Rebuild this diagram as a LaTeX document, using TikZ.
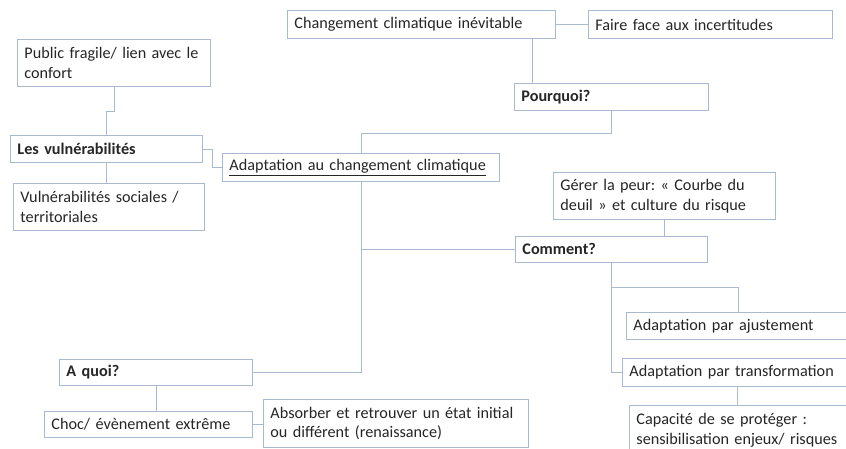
\documentclass[tikz,border=0pt]{standalone}
\usepackage{fontspec}
\setmainfont{Carlito}[WordSpace=0.8]
\usetikzlibrary{calc}
\definecolor{boxline}{HTML}{A9B9CF}
\definecolor{boxtext}{HTML}{262626}
\newcommand{\boxfont}{\fontsize{16.2}{19.5}\selectfont\frenchspacing\hyphenpenalty=10000\relax}
\tikzset{box/.style={draw=boxline, line width=0.9pt, fill=white, anchor=north west,
    align=left, inner xsep=7pt, inner ysep=0pt, text=boxtext, font=\boxfont},
    link/.style={draw=boxline, line width=0.9pt}}

\begin{document}
\begin{tikzpicture}[x=1pt, y=-1pt]
    \useasboundingbox (0,0) rectangle (846,448);
    \clip (0,0) rectangle (846,448);

    % Boxes
    \node[box, text width=254pt, minimum height=28pt] (chg)    at (287,10)  {Changement climatique inévitable};
    \node[box, text width=230pt, minimum height=28pt] (faire)  at (588,10)  {Faire face aux incertitudes};
    \node[box, text width=180pt, minimum height=27pt] (pq)     at (514,83)  {\textbf{Pourquoi?}};
    \node[box, text width=179pt, minimum height=47pt] (pub)    at (17,39)   {Public fragile/ lien avec le\\confort};
    \node[box, text width=178pt, minimum height=27pt] (lesv)   at (10,135)  {\textbf{Les vulnérabilités}};
    \node[box, text width=263pt, minimum height=28pt] (adapt)  at (222,153) {\underline{Adaptation au changement climatique}};
    \node[box, text width=177pt, minimum height=47pt] (vsoc)   at (13,183)  {Vulnérabilités sociales /\\territoriales};
    \node[box, text width=208pt, minimum height=47pt] (gerer)  at (553,172) {Gérer la peur: « Courbe du\\deuil » et culture du risque};
    \node[box, text width=178pt, minimum height=26pt] (com)    at (515,236) {\textbf{Comment?}};
    \node[box, text width=210pt, minimum height=27pt] (ajust)  at (626,312) {Adaptation par ajustement};
    \node[box, text width=216pt, minimum height=28pt] (transf) at (622,358) {Adaptation par transformation};
    \node[box, text width=210pt, minimum height=50pt] (cap)    at (629,405) {Capacité de se protéger :\\sensibilisation enjeux/ risques};
    \node[box, text width=179pt, minimum height=26pt] (aquoi)  at (59,359)  {\textbf{A quoi?}};
    \node[box, text width=194pt, minimum height=26pt] (choc)   at (44,411)  {Choc/ évènement extrême};
    \node[box, text width=251pt, minimum height=48pt] (absorb) at (263,399) {Absorber et retrouver un état initial\\ou différent (renaissance)};

    % Links between boxes
    \draw[link] (chg.east) -- (faire.west);
    \draw[link] ([xshift=18pt]pq.north west) -- ([xshift=18pt]pq.north west |- chg.south);
    \draw[link] (adapt.north) -- ++(0,-20) -| (pq.south);
    \draw[link] (pub.south) |- ($(pub.south)!0.5!(lesv.north)$) -| (lesv.north);
    \draw[link] (lesv.east) -| ($(lesv.east)!0.5!(adapt.west)$) |- (adapt.west);
    \draw[link] (lesv.south) -- (lesv.south |- vsoc.north);
    \draw[link] (adapt.south) |- (com.west);
    \draw[link] (adapt.south) |- (aquoi.east);
    \draw[link] (gerer.south) -- (gerer.south |- com.north);
    \draw[link] (com.south) |- ($(com.south)!0.5!(ajust.north)$) -| (ajust.north);
    \draw[link] (com.south) |- (transf.west);
    \draw[link] (transf.south) -- (transf.south |- cap.north);
    \draw[link] (aquoi.south) -- (aquoi.south |- choc.north);
    \draw[link] (choc.east) -- (choc.east -| absorb.west);
\end{tikzpicture}
\end{document}
